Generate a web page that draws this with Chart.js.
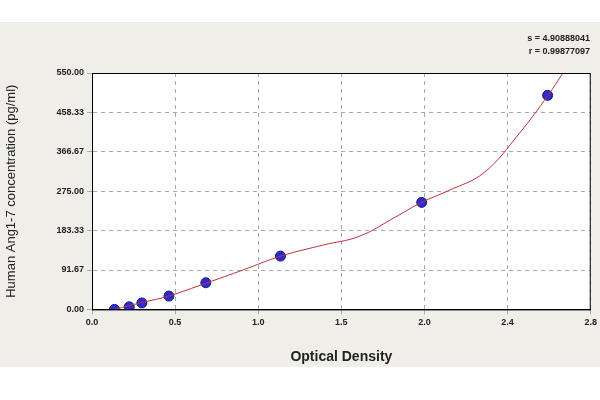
<!DOCTYPE html>
<html>
<head>
<meta charset="utf-8">
<script src="https://cdn.jsdelivr.net/npm/chart.js@4.4.0/dist/chart.umd.min.js"></script>
<style>
  html, body { margin: 0; padding: 0; background: #ffffff; }
  #wrap { width: 600px; height: 400px; }
</style>
</head>
<body>
<div id="wrap"><canvas id="curveChart"></canvas></div>
<script>
// standard points
const odValues = [0.126, 0.209, 0.28, 0.432, 0.639, 1.058, 1.851, 2.558];
const concValues = [0, 6, 15, 31, 62, 124, 249, 498];

// fitted curve, hand-read points along the red line
const curveOd = [0.126, 0.28, 0.43, 0.64, 0.85, 1.06, 1.3, 1.5, 1.7, 1.85, 2.0, 2.2, 2.4, 2.56, 2.644];
const curveConc = [0, 16, 31, 61, 92, 124, 150, 170, 214, 249, 276, 318, 410, 498, 550];

const xTickLabels = ["0.0", "0.5", "1.0", "1.5", "2.0", "2.4", "2.8"];
const yTickLabels = ["0.00", "91.67", "183.33", "275.00", "366.67", "458.33", "550.00"];
const statLines = ["s = 4.90888041", "r = 0.99877097"];

document.addEventListener("DOMContentLoaded", function () {
    const bgPlugin = {
        id: "bg",
        beforeDraw(chart) {
            const { ctx, chartArea } = chart;
            ctx.save();
            ctx.fillStyle = "#efeee8";
            ctx.fillRect(0, 22, 600, 345);
            ctx.fillStyle = "#ffffff";
            ctx.fillRect(chartArea.left, chartArea.top, chartArea.right - chartArea.left, chartArea.bottom - chartArea.top);
            ctx.restore();
        },
        afterDraw(chart) {
            const { ctx, chartArea } = chart;
            ctx.save();
            ctx.strokeStyle = "#000";
            ctx.lineWidth = 1;
            ctx.strokeRect(chartArea.left + 0.5, chartArea.top + 0.5, chartArea.right - chartArea.left - 1, chartArea.bottom - chartArea.top);
            ctx.fillStyle = "#222";
            ctx.font = "bold 9px Arial, 'Liberation Sans', sans-serif";
            ctx.textAlign = "right";
            ctx.fillText(statLines[0], 590, 41);
            ctx.fillText(statLines[1], 590, 54);
            ctx.restore();
        }
    };

    const ctx = document.getElementById("curveChart").getContext("2d");
    new Chart(ctx, {
        type: "scatter",
        data: {
            datasets: [
                {
                    label: "Curve",
                    data: curveOd.map((x, i) => ({ x: x, y: curveConc[i] })),
                    showLine: true,
                    borderColor: "#c0303a",
                    borderWidth: 1,
                    pointRadius: 0,
                    tension: 0.4,
                },
                {
                    label: "Standards",
                    data: odValues.map((x, i) => ({ x: x, y: concValues[i] })),
                    backgroundColor: "#2b2bd0",
                    borderColor: "#1a1a80",
                    borderWidth: 1,
                    pointRadius: 5,
                },
            ],
        },
        options: {
            responsive: true,
            maintainAspectRatio: false,
            animation: false,
            layout: { padding: { top: 73, right: 0, bottom: 30, left: 0 } },
            plugins: { legend: { display: false }, tooltip: { enabled: false } },
            scales: {
                x: {
                    type: "linear",
                    min: 0,
                    max: 2.8,
                    afterBuildTicks: (axis) => {
                        axis.ticks = xTickLabels.map((_, i) => ({ value: 2.8 * i / 6 }));
                    },
                    ticks: {
                        color: "#222",
                        font: { size: 9, weight: "bold", family: "Arial, 'Liberation Sans', sans-serif" },
                        callback: (v, i) => xTickLabels[i],
                        maxRotation: 0,
                    },
                    grid: { color: "#aaa", tickLength: 5 },
                    border: { display: true, color: "#000", dash: [4, 4] },
                    title: {
                        display: true,
                        text: "Optical Density",
                        color: "#222",
                        font: { size: 14, weight: "bold", family: "Arial, 'Liberation Sans', sans-serif" },
                        padding: { top: 18 },
                    },
                },
                y: {
                    min: 0,
                    max: 550,
                    afterBuildTicks: (axis) => {
                        axis.ticks = yTickLabels.map((_, i) => ({ value: 550 * i / 6 }));
                    },
                    afterFit: (axis) => { axis.width = 92; },
                    ticks: {
                        color: "#222",
                        font: { size: 9, weight: "bold", family: "Arial, 'Liberation Sans', sans-serif" },
                        callback: (v, i) => yTickLabels[i],
                    },
                    grid: { color: "#aaa", tickLength: 5 },
                    border: { display: true, color: "#000", dash: [4, 4] },
                    title: {
                        display: true,
                        text: "Human Ang1-7 concentration (pg/ml)",
                        color: "#222",
                        font: { size: 13, family: "Arial, 'Liberation Sans', sans-serif" },
                        padding: { bottom: 12 },
                    },
                },
            },
        },
        plugins: [bgPlugin],
    });
});
</script>
</body>
</html>
